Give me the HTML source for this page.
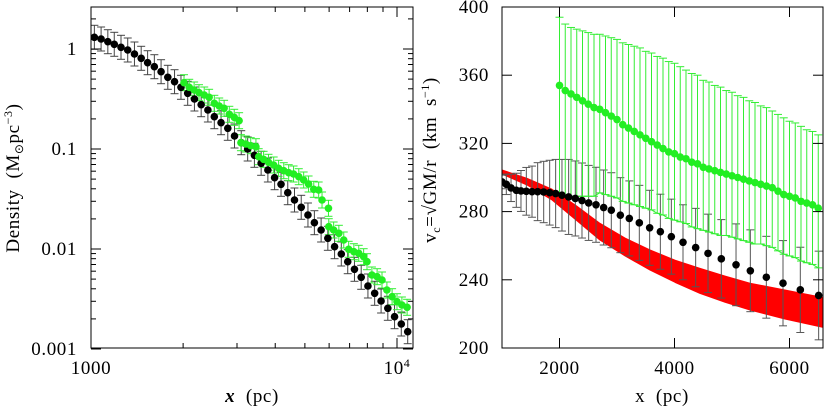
<!DOCTYPE html>
<html><head><meta charset="utf-8"><style>
body{margin:0;background:#fff}
svg{display:block;font-family:"Liberation Serif",serif}
text{white-space:pre;letter-spacing:0.6px}
</style></head><body>
<svg id="c" width="824" height="407" viewBox="0 0 824 407"></svg>
<script>
// ---- Left panel data (density profile) ----
const leftBlackLogX=[3.011,3.033,3.055,3.076,3.098,3.120,3.142,3.164,3.185,3.207,3.229,3.251,3.273,3.294,3.316,3.338,3.360,3.382,3.403,3.425,3.447,3.469,3.491,3.512,3.534,3.556,3.578,3.600,3.621,3.643,3.665,3.687,3.709,3.730,3.752,3.774,3.796,3.818,3.839,3.861,3.883,3.905,3.927,3.948,3.970,3.992,4.014,4.035];
const leftBlackLogY=[0.117,0.100,0.073,0.047,0.017,-0.010,-0.050,-0.093,-0.137,-0.177,-0.227,-0.283,-0.327,-0.383,-0.443,-0.500,-0.557,-0.610,-0.677,-0.737,-0.793,-0.870,-0.937,-1.000,-1.063,-1.143,-1.210,-1.287,-1.353,-1.437,-1.510,-1.583,-1.660,-1.737,-1.810,-1.893,-1.977,-2.050,-2.127,-2.203,-2.283,-2.370,-2.443,-2.520,-2.593,-2.677,-2.750,-2.827];
const leftBlackErr=0.12;
const leftGreenLogX=[3.304,3.321,3.337,3.353,3.370,3.386,3.403,3.419,3.435,3.452,3.468,3.484,3.490,3.506,3.522,3.539,3.548,3.564,3.580,3.597,3.613,3.630,3.646,3.662,3.679,3.695,3.711,3.728,3.744,3.755,3.776,3.777,3.793,3.810,3.826,3.842,3.859,3.875,3.891,3.902,3.918,3.935,3.951,3.967,3.984,4.000,4.016,4.033];
const leftGreenLogY=[-0.337,-0.383,-0.410,-0.437,-0.460,-0.483,-0.543,-0.570,-0.593,-0.653,-0.683,-0.717,-0.937,-0.950,-0.967,-0.977,-1.077,-1.103,-1.133,-1.160,-1.193,-1.217,-1.237,-1.250,-1.277,-1.310,-1.350,-1.403,-1.410,-1.510,-1.593,-1.777,-1.810,-1.843,-1.910,-2.003,-2.027,-2.043,-2.077,-2.127,-2.260,-2.277,-2.310,-2.410,-2.477,-2.527,-2.560,-2.583];
const leftGreenErr=0.08;
// ---- Right panel data (circular velocity) ----
const rightBlackX=[1000,1075,1157,1249,1330,1423,1522,1620,1725,1829,1933,2043,2159,2275,2391,2507,2635,2768,2901,3058,3214,3388,3568,3754,3945,4148,4368,4583,4814,5070,5319,5597,5887,6188,6507];
const rightBlackV=[297.4,296.0,293.9,292.5,292.1,291.9,291.7,291.7,291.5,291.1,290.6,289.6,288.6,287.7,286.5,285.1,284.0,282.4,280.8,277.9,276.0,273.4,270.5,268.2,265.3,262.0,258.9,255.5,252.3,248.8,245.3,241.5,238.0,234.1,230.8];
const rightBlackErr=[4,6,8,10,12,14,15,17,18,19,20,21,22,22,22,22,22,22,22,22,22,22,22,22,22,22,23,23,23,24,24,24,25,25,26];
const rightGreenX=[2000,2100,2200,2300,2400,2500,2600,2700,2800,2900,3000,3100,3200,3300,3400,3500,3600,3700,3800,3900,4000,4100,4200,4300,4400,4500,4600,4700,4800,4900,5000,5100,5200,5300,5400,5500,5600,5700,5800,5900,6000,6100,6200,6300,6400,6500];
const rightGreenV=[354,351,349,347,345,343,341,340,338,336,334,331,329,327,325,323,321,319,317,315,314,312,311,309,308,306,305,304,303,302,301,300,299,298,297,296,295,294,292,290,289,288,286,285,284,282];
const rightGreenUp=[40,39,39,40,41,42,43,44,45,46,47,48,49,50,51,51,52,52,53,53,53,53,52,52,52,51,51,50,50,49,49,48,48,47,47,46,46,45,45,45,44,44,44,43,43,43];
const rightGreenLo=[64,62,60,58,56,54,52,49,48,47,46,45,44,43,42,41,40,40,39,39,39,38,38,38,38,37,37,37,37,36,36,36,36,36,36,35,35,35,35,35,35,35,35,35,35,35];
const redX=[1000,1435,1870,2290,2704,3140,3574,4010,4443,4880,5313,5920,6600];
const redHi=[304.4,299.5,293.1,283.5,273.1,264.5,257.5,251.5,246.7,242.2,238,234,229.5];
const redLo=[302,295.6,286.8,275.0,263.3,254.0,245.7,238.5,232,226.8,222.3,217,212];
const leftXTicks=["1000","10"];
const leftYTicks=[{v:0,t:"1"},{v:-1,t:"0.1"},{v:-2,t:"0.01"},{v:-3,t:"0.001"}];
const rightXTicks=[2000,4000,6000];
const rightYTicks=[200,240,280,320,360,400];

const NS="http://www.w3.org/2000/svg";
const svg=document.getElementById('c');
function mk(tag,attrs,parent){const e=document.createElementNS(NS,tag);for(const k in attrs)e.setAttribute(k,attrs[k]);(parent||svg).appendChild(e);return e;}

const L={x0:91,x1:413,y0:7,y1:348};
const lx=v=>L.x0+(v-3)*306;
const ly=v=>49-v*100;
const R={x0:502,x1:823,y0:7,y1:348};
const rx=v=>R.x0+(v-1000)*(115/2000);
const ry=v=>348-(v-200)*(341/200);

function dot(g,x,y,fill){const c=mk('circle',{cx:x,cy:y,r:3.8,fill:fill},g);}
function ebar(g,x,ya,yb,col,cap){const l=mk('line',{x1:x,x2:x,y1:ya,y2:yb,stroke:col,'stroke-width':1},g);
mk('line',{x1:x-cap,x2:x+cap,y1:ya,y2:ya,stroke:col,'stroke-width':1},g);mk('line',{x1:x-cap,x2:x+cap,y1:yb,y2:yb,stroke:col,'stroke-width':1},g);}

// ---- Left panel ----
const gL=mk('g',{});
const clipL=mk('clipPath',{id:'cl'});mk('rect',{x:L.x0,y:L.y0,width:L.x1-L.x0,height:L.y1-L.y0},clipL);
const gLd=mk('g',{'clip-path':'url(#cl)'},gL);
leftBlackLogX.forEach((v,i)=>ebar(gLd,lx(v),ly(leftBlackLogY[i]+leftBlackErr),ly(leftBlackLogY[i]-leftBlackErr),'#444',4));
leftGreenLogX.forEach((v,i)=>ebar(gLd,lx(v),ly(leftGreenLogY[i]+leftGreenErr),ly(leftGreenLogY[i]-leftGreenErr),'#33ee33',4));
leftBlackLogX.forEach((v,i)=>dot(gLd,lx(v),ly(leftBlackLogY[i]),'#000'));
leftGreenLogX.forEach((v,i)=>dot(gLd,lx(v),ly(leftGreenLogY[i]),'#22ee22'));
const fL=mk('rect',{x:L.x0,y:L.y0,width:L.x1-L.x0,height:L.y1-L.y0,fill:'none',stroke:'#000','stroke-width':1},gL);

for(let d=3;d<=4;d++)for(let m=1;m<10;m++){const v=d+Math.log10(m);const x=lx(v);if(x>L.x1)continue;const len=m==1?10:5;
mk('line',{x1:x,x2:x,y1:L.y1,y2:L.y1-len,stroke:'#000'},gL);mk('line',{x1:x,x2:x,y1:L.y0,y2:L.y0+len,stroke:'#000'},gL);}
for(let d=-3;d<=0;d++)for(let m=1;m<10;m++){const v=d+Math.log10(m);const y=ly(v);if(y<L.y0)continue;const len=m==1?10:5;
mk('line',{x1:L.x0,x2:L.x0+len,y1:y,y2:y,stroke:'#000'},gL);mk('line',{x1:L.x1,x2:L.x1-len,y1:y,y2:y,stroke:'#000'},gL);}
let t=mk('text',{x:lx(3),y:374,'font-size':19,'text-anchor':'middle'},gL);t.textContent=leftXTicks[0];

t=mk('text',{x:lx(4),y:374,'font-size':19,'text-anchor':'middle'},gL);t.innerHTML=leftXTicks[1]+'<tspan dy="-7" font-size="12">4</tspan>';

leftYTicks.forEach(o=>{const e=mk('text',{x:77,y:ly(o.v)+6,'font-size':19,'text-anchor':'end'},gL);e.textContent=o.t;
});
t=mk('text',{x:252,y:402,'font-size':19,'text-anchor':'middle'},gL);t.innerHTML='<tspan font-weight="bold" font-style="italic">x</tspan>  (pc)';

t=mk('text',{x:0,y:0,'font-size':19,'text-anchor':'middle',transform:'translate(19,178) rotate(-90)'},gL);
t.innerHTML='Density  (M<tspan font-size="12" dy="4">⊙</tspan><tspan dy="-4">pc</tspan><tspan font-size="12" dy="-7">−3</tspan><tspan dy="7">)</tspan>';


// ---- Right panel ----
const gR=mk('g',{});
const clipR=mk('clipPath',{id:'cr'});mk('rect',{x:R.x0,y:R.y0,width:R.x1-R.x0,height:R.y1-R.y0},clipR);
const gRd=mk('g',{'clip-path':'url(#cr)'},gR);
let pts=redX.map((v,i)=>rx(v)+','+ry(redHi[i]));pts=pts.concat(redX.slice().reverse().map((v,j)=>{const i=redX.length-1-j;return rx(v)+','+ry(redLo[i]);}));
const band=mk('polygon',{points:pts.join(' '),fill:'#ff0000','stroke':'#ff0000','stroke-width':1,'stroke-linejoin':'round'},gRd);
rightBlackX.forEach((v,i)=>ebar(gRd,rx(v),ry(rightBlackV[i]+rightBlackErr[i]),ry(rightBlackV[i]-rightBlackErr[i]),'#555',4));
rightGreenX.forEach((v,i)=>ebar(gRd,rx(v),ry(rightGreenV[i]+rightGreenUp[i]),ry(rightGreenV[i]-rightGreenLo[i]),'#33ee33',4));
const env=mk('polyline',{points:rightGreenX.map((v,i)=>rx(v)+','+ry(rightGreenV[i]-rightGreenLo[i])).join(' '),fill:'none',stroke:'#33ee33'},gRd);

rightBlackX.forEach((v,i)=>dot(gRd,rx(v),ry(rightBlackV[i]),'#000'));
rightGreenX.forEach((v,i)=>dot(gRd,rx(v),ry(rightGreenV[i]),'#22ee22'));
const fR=mk('rect',{x:R.x0,y:R.y0,width:R.x1-R.x0,height:R.y1-R.y0,fill:'none',stroke:'#000'},gR);

rightXTicks.forEach(v=>{const x=rx(v);mk('line',{x1:x,x2:x,y1:R.y1,y2:R.y1-10,stroke:'#000'},gR);mk('line',{x1:x,x2:x,y1:R.y0,y2:R.y0+10,stroke:'#000'},gR);
const e=mk('text',{x:x,y:374,'font-size':19,'text-anchor':'middle'},gR);e.textContent=v;});
rightYTicks.forEach(v=>{const y=ry(v);mk('line',{x1:R.x0,x2:R.x0+10,y1:y,y2:y,stroke:'#000'},gR);mk('line',{x1:R.x1,x2:R.x1-10,y1:y,y2:y,stroke:'#000'},gR);
const e=mk('text',{x:489,y:y+6,'font-size':19,'text-anchor':'end'},gR);e.textContent=v;});
t=mk('text',{x:662,y:402,'font-size':19,'text-anchor':'middle'},gR);t.textContent='x  (pc)';

t=mk('text',{x:0,y:0,'font-size':19,'text-anchor':'middle',transform:'translate(436,160) rotate(-90)'},gR);
t.innerHTML='v<tspan font-size="12" dy="4">c</tspan><tspan dy="-4">=√GM/r  (km  s</tspan><tspan font-size="12" dy="-7">−1</tspan><tspan dy="7">)</tspan>';

</script>
</body></html>
